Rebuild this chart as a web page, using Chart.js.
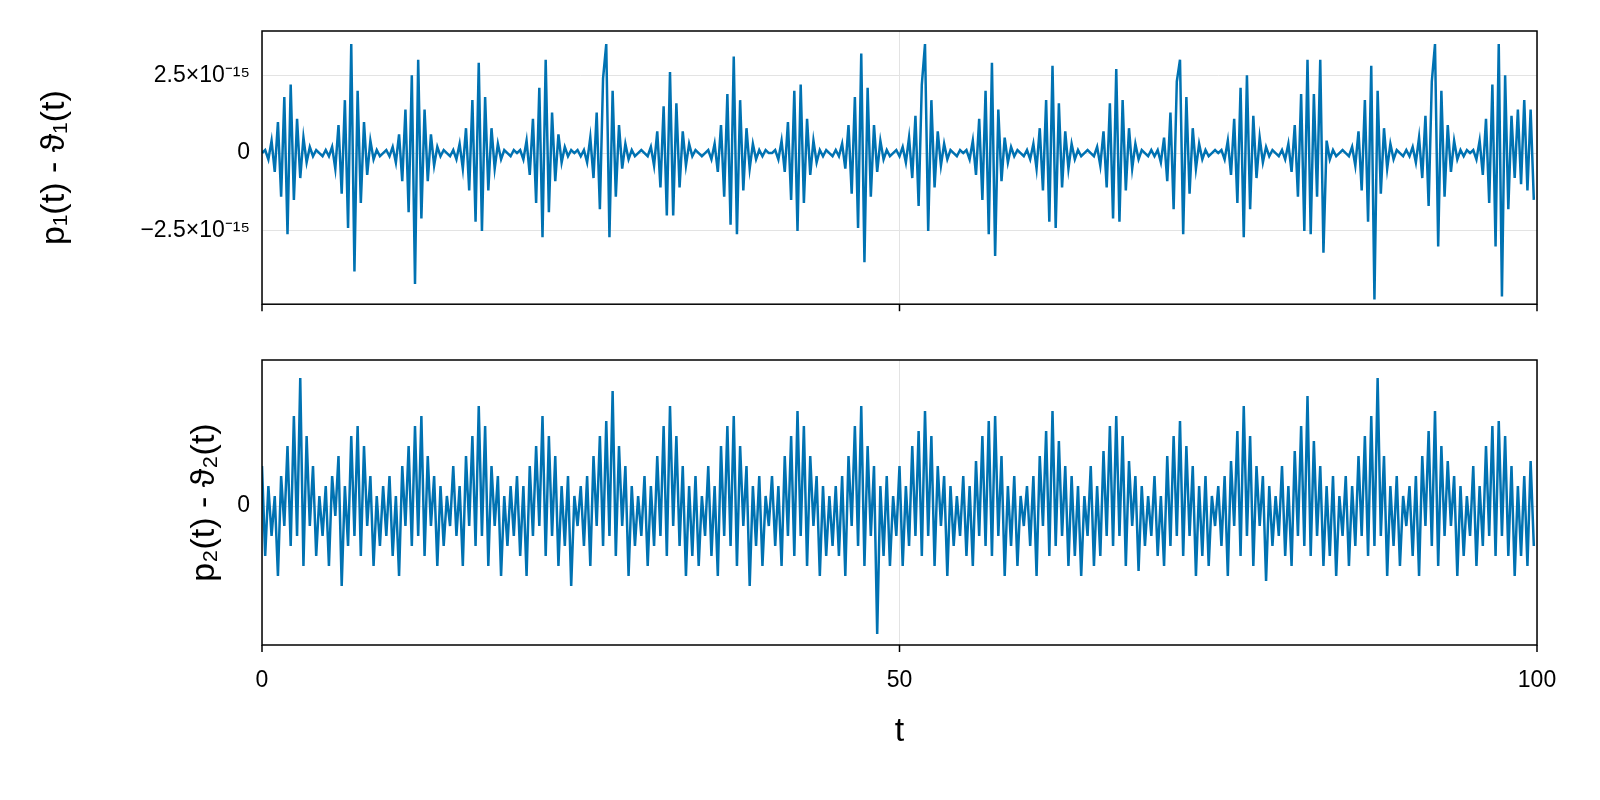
<!DOCTYPE html>
<html>
<head>
<meta charset="utf-8">
<script src="https://cdn.jsdelivr.net/npm/chart.js@4.4.1/dist/chart.umd.min.js"></script>
<style>
  body { margin: 0; background: #fff; overflow: hidden; }
  #wrap { position: relative; width: 1600px; height: 800px; }
  canvas { position: absolute; left: 0; }
</style>
</head>
<body>
<div id="wrap">
  <canvas id="top" style="top:0px;width:1600px;height:330px"></canvas>
  <canvas id="bot" style="top:330px;width:1600px;height:426px"></canvas>
</div>
<script>
// time step of the sampled series
var tStep = 0.25;

// p1 - theta1, in units of 1e-16 (one block of 20 samples per 5 time units)
var diff1 = [
  0,1,-2,4,-6,10,-14,18,-26,22,-15,11,-8,5,-3,2,-1,1,0,-1,
  1,-1,2,-5,9,-13,17,-24,35,-38,20,-16,10,-7,4,-2,1,-1,0,1,
  -1,2,-3,6,-9,14,-19,25,-42,30,-21,14,-9,6,-4,2,-1,1,0,-1,
  1,-2,3,-5,8,-12,17,-22,29,-25,18,-12,8,-5,3,-2,1,0,-1,1,
  0,1,-2,4,-7,11,-16,21,-27,30,-19,13,-9,6,-3,2,-1,1,0,1,
  -1,1,-3,5,-8,13,-18,24,35,-27,20,-14,9,-5,3,-2,1,-1,0,1,
  0,-1,2,-4,7,-11,15,-20,26,-20,16,-11,7,-4,3,-1,1,0,-1,0,
  1,-2,3,-6,9,-14,19,-23,31,-26,17,-12,8,-5,3,-2,1,-1,1,0,
  0,1,-2,4,-6,10,-15,20,-25,22,-16,11,-7,4,-3,1,-1,1,0,-1,
  1,-1,3,-5,9,-13,18,-24,32,-35,21,-14,9,-6,4,-2,1,-1,0,1,
  -1,2,-3,5,-8,12,-17,22,35,-25,17,-11,7,-4,3,-2,1,0,-1,1,
  0,1,-2,4,-7,11,-15,20,-26,29,-33,14,-9,5,-3,2,-1,1,0,-1,
  1,-2,3,-5,8,-12,17,-22,28,-24,16,-11,7,-5,3,-2,1,-1,0,1,
  0,-1,2,-4,7,-11,16,-21,27,-22,17,-12,8,-5,3,-2,1,0,-1,1,
  -1,1,-3,5,-9,13,-18,23,30,-26,18,-13,8,-5,3,-2,1,-1,0,1,
  0,1,-2,4,-7,11,-16,21,-27,25,-18,12,-8,5,-3,2,-1,1,0,-1,
  1,-2,3,-6,9,-14,19,-25,30,-26,19,-14,30,-32,4,-2,1,-1,0,1,
  0,-1,2,-4,7,-12,17,-22,28,-47,20,-13,8,-5,3,-2,1,0,-1,1,
  -1,2,-3,5,-8,12,-17,23,35,-30,20,-14,9,-6,4,-2,1,-1,1,0,
  1,-2,4,-7,11,-16,22,-30,35,-46,25,-18,12,-8,14,-10,17,-12,14,-15
];

// p2 - theta2, arbitrary units (only the zero tick is labelled)
var diff2 = [
  40,-50,20,-30,10,-70,30,-20,60,-40,90,-30,128,-60,70,-20,40,-50,10,-30,
  20,-60,30,-10,50,-80,20,-40,70,-30,80,-50,60,-20,30,-60,10,-40,20,-30,
  30,-50,10,-70,40,-20,60,-40,80,-30,90,-50,50,-20,30,-60,20,-40,10,-20,
  40,-30,20,-60,50,-20,70,-40,100,-30,80,-60,40,-20,30,-70,10,-40,20,-30,
  30,-50,20,-70,40,-30,60,-20,90,-50,70,-30,50,-60,20,-40,30,-80,10,-20,
  20,-40,30,-60,50,-20,70,-40,85,-30,115,-50,60,-20,40,-70,20,-40,10,-30,
  30,-60,20,-40,50,-30,80,-50,100,-20,70,-40,40,-70,20,-50,30,-60,10,-30,
  40,-50,20,-70,60,-30,80,-40,90,-60,60,-20,40,-80,20,-40,30,-60,10,-20,
  30,-40,20,-60,50,-30,70,-50,95,-30,80,-60,50,-20,30,-70,20,-50,10,-40,
  20,-50,30,-70,50,-20,80,-40,100,-60,60,-30,40,-128,20,-50,30,-60,10,-30,
  40,-60,20,-40,60,-30,75,-50,95,-30,70,-60,40,-20,30,-70,20,-40,10,-30,
  30,-50,20,-60,45,-30,70,-40,85,-50,90,-30,50,-70,20,-40,30,-60,10,-20,
  20,-40,30,-70,50,-20,75,-50,95,-40,65,-30,40,-60,30,-50,20,-70,10,-30,
  40,-60,20,-50,55,-30,80,-40,90,-30,70,-60,45,-20,30,-65,20,-40,10,-30,
  30,-50,10,-60,50,-40,70,-30,85,-50,60,-30,40,-70,20,-50,30,-60,10,-20,
  20,-40,30,-70,45,-20,75,-50,100,-30,70,-60,40,-20,30,-75,20,-40,10,-30,
  40,-50,20,-60,55,-30,80,-40,110,-50,65,-30,40,-60,20,-50,30,-70,10,-30,
  30,-60,20,-40,50,-30,70,-50,90,-40,128,-30,50,-70,20,-40,30,-60,10,-20,
  20,-50,30,-70,50,-20,75,-40,95,-60,60,-30,45,-20,30,-70,20,-50,10,-30,
  40,-60,20,-40,60,-30,80,-50,85,-30,70,-50,40,-70,20,-50,30,-60,45,-40
];

var topTicks = [-25, 0, 25];
var topTickLabels = ['\u22122.5\u00d710\u207b\u00b9\u2075', '0', '2.5\u00d710\u207b\u00b9\u2075'];
var xTicks = [0, 50, 100];

function toPoints(arr) {
    return arr.map(function (v, i) { return { x: i * tStep, y: v }; });
}

// Frame around the plot area plus outward x tick marks.
var framePlugin = {
    id: 'frame',
    afterDraw: function (chart) {
        var a = chart.chartArea, ctx = chart.ctx, xs = chart.scales.x;
        ctx.save();
        ctx.strokeStyle = '#000';
        ctx.lineWidth = 1.5;
        ctx.strokeRect(a.left, a.top, a.right - a.left, a.bottom - a.top);
        xTicks.forEach(function (t) {
            var px = xs.getPixelForValue(t);
            ctx.beginPath();
            ctx.moveTo(px, a.bottom);
            ctx.lineTo(px, a.bottom + 7);
            ctx.stroke();
        });
        ctx.restore();
    }
};

function makeChart(id, data, o) {
    return new Chart(document.getElementById(id), {
        type: 'line',
        data: { datasets: [{ data: toPoints(data), borderColor: '#0072b2', borderWidth: 2.5,
                             pointRadius: 0, tension: 0 }] },
        options: {
            responsive: false, animation: false, maintainAspectRatio: false, devicePixelRatio: 1,
            layout: { padding: { left: o.padLeft, right: 63, top: o.padTop } },
            plugins: { legend: { display: false }, tooltip: { enabled: false } },
            scales: {
                x: {
                    type: 'linear', min: 0, max: 100,
                    afterBuildTicks: function (s) { s.ticks = xTicks.map(function (v) { return { value: v }; }); },
                    afterFit: function (s) { s.height = o.xHeight; },
                    grid: { color: '#e3e3e3', lineWidth: 1, drawTicks: false },
                    border: { display: false },
                    ticks: { display: o.xLabels, padding: 22, color: '#000', maxRotation: 0,
                             font: { family: 'Liberation Sans', size: 23 } },
                    title: { display: o.xLabels, text: 't', color: '#000',
                             font: { family: 'Liberation Sans', size: 34 } }
                },
                y: {
                    min: o.yMin, max: o.yMax,
                    afterBuildTicks: function (s) { s.ticks = o.yTicks.map(function (v) { return { value: v }; }); },
                    afterFit: function (s) { s.width = o.yWidth; },
                    grid: { color: '#e3e3e3', lineWidth: 1, drawTicks: false },
                    border: { display: false },
                    ticks: { padding: 12, color: '#000', font: { family: 'Liberation Sans', size: 23 },
                             callback: function (v) { var i = o.yTicks.indexOf(v); return o.yLabels[i]; } },
                    title: { display: true, text: o.yTitle, color: '#000',
                             font: { family: 'Liberation Sans', size: 34 } }
                }
            }
        },
        plugins: [framePlugin]
    });
}

var c1 = document.getElementById('top'); c1.width = 1600; c1.height = 330;
var c2 = document.getElementById('bot'); c2.width = 1600; c2.height = 426;

makeChart('top', diff1, {
    padLeft: 30, padTop: 31, yWidth: 232, xHeight: 15, xLabels: false,
    yMin: -48.5, yMax: 39.2, yTicks: topTicks, yLabels: topTickLabels,
    yTitle: 'p\u2081(t) - \u03d1\u2081(t)'
});
makeChart('bot', diff2, {
    padLeft: 180, padTop: 30, yWidth: 82, xHeight: 111, xLabels: true,
    yMin: -139, yMax: 146, yTicks: [0], yLabels: ['0'],
    yTitle: 'p\u2082(t) - \u03d1\u2082(t)'
});
</script>
</body>
</html>
